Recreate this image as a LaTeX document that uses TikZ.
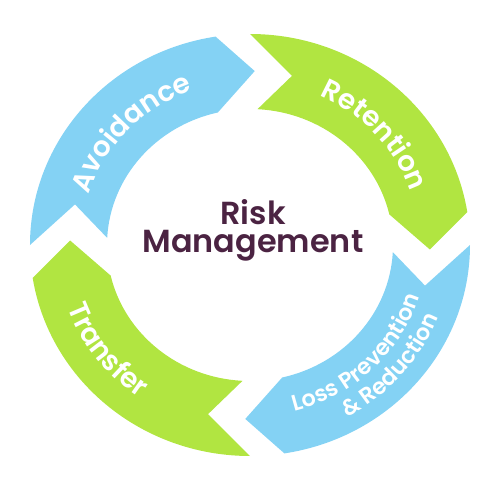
\documentclass[tikz,border=0pt]{standalone}
\usepackage{fontspec}
\setmainfont{Poppins}
\newfontfamily\centerFont{Poppins SemiBold}
\definecolor{bandBlue}{HTML}{84D2F4}
\definecolor{bandGreen}{HTML}{B1E541}
\definecolor{textPlum}{HTML}{4B2342}
\usetikzlibrary{decorations.text}
\newcommand{\labelFont}{\fontsize{28}{28}\selectfont\centerFont}
\newcommand{\smallLabelFont}{\fontsize{22.5}{22.5}\selectfont\centerFont}
\newcommand{\cycleBand}[2]{%
  \fill[#2] (#1:220bp and 211bp)
    arc[start angle=#1, end angle=#1-81, x radius=220bp, y radius=211bp]
    -- ({#1-91.5}:180bp and 174bp)
    -- ({#1-77}:143bp and 136bp)
    arc[start angle=#1-77, end angle=#1-3, x radius=143bp, y radius=136bp]
    -- ({#1-13.5}:180bp and 174bp) -- cycle;}

\begin{document}
\begin{tikzpicture}
        \useasboundingbox (-250bp,-245bp) rectangle (250bp,245bp);
        \cycleBand{180}{bandBlue}
        \cycleBand{90}{bandGreen}
        \cycleBand{0}{bandBlue}
        \cycleBand{270}{bandGreen}
        \path[decorate, decoration={text along path, text align=center, text color=white,
              text={|\labelFont|Avoidance}}]
          (176:170bp and 164bp) arc[start angle=176, end angle=96, x radius=170bp, y radius=164bp];
        \path[decorate, decoration={text along path, text align=center, text color=white,
              text={|\labelFont|Retention}}]
          (87:170bp and 164bp) arc[start angle=87, end angle=-3, x radius=170bp, y radius=164bp];
        \path[decorate, decoration={text along path, text align=center, text color=white,
              text={|\labelFont|Transfer}}]
          (172:194bp and 186bp) arc[start angle=172, end angle=262, x radius=194bp, y radius=186bp];
        \path[decorate, decoration={text along path, text align=center, text color=white,
              text={|\smallLabelFont|Loss Prevention}}]
          (-100:178bp and 172bp) arc[start angle=-100, end angle=8, x radius=178bp, y radius=172bp];
        \path[decorate, decoration={text along path, text align=center, text color=white,
              text={|\smallLabelFont|{\&} Reduction}}]
          (-95:203bp and 196bp) arc[start angle=-95, end angle=13, x radius=203bp, y radius=196bp];
        \node[text=textPlum, align=center, font=\centerFont\fontsize{32}{28}\selectfont] (title) at (3bp,15bp) {Risk\\Management};
      \end{tikzpicture}
\end{document}
